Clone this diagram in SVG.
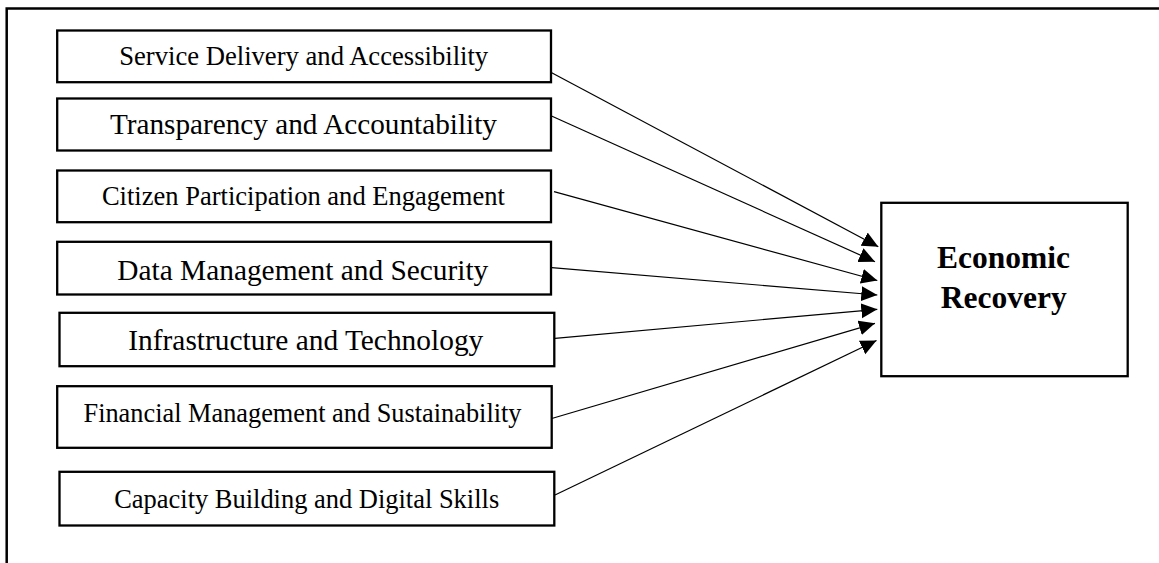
<svg xmlns="http://www.w3.org/2000/svg" width="1159" height="563" viewBox="0 0 1159 563">
<style>
  .box { fill: #fff; stroke: #000; stroke-width: 2.3; }
  .lbl { font-family: "Liberation Serif", "Times New Roman", serif; font-size: 26.5px; fill: #000; text-anchor: middle; }
  .lbl.big { font-size: 29px; }
  .er { font-family: "Liberation Serif", "Times New Roman", serif; font-size: 31.5px; font-weight: bold; fill: #000; text-anchor: middle; }
  .conn { stroke: #000; stroke-width: 1.2; fill: none; marker-end: url(#arrow); }
  .frame { stroke: #000; stroke-width: 2.5; fill: none; }
</style>
<defs>
  <marker id="arrow" markerUnits="userSpaceOnUse" markerWidth="17" markerHeight="16" refX="16" refY="7.5" orient="auto" viewBox="0 0 17 16">
    <path d="M0,0 L16,7.5 L0,15 z" fill="#000"/>
  </marker>
</defs>
<rect width="1159" height="563" fill="#fff"/>
<path class="frame" d="M6.7,563 V8.5 H1159"/>

<g id="connectors">
  <line class="conn" x1="551.7" y1="72.7" x2="878.3" y2="246.7"/>
  <line class="conn" x1="549.3" y1="115" x2="875" y2="261.7"/>
  <line class="conn" x1="554" y1="191.7" x2="877.3" y2="280.5"/>
  <line class="conn" x1="551.7" y1="267.7" x2="877.3" y2="295"/>
  <line class="conn" x1="555" y1="338.3" x2="877.3" y2="309.3"/>
  <line class="conn" x1="546.7" y1="420" x2="875" y2="323.3"/>
  <line class="conn" x1="555" y1="495" x2="876.5" y2="340.5"/>
</g>

<g id="node-service">
  <rect class="box" x="57.2" y="30.5" width="493.8" height="51.7"/>
  <text class="lbl" x="303.7" y="65" textLength="369" lengthAdjust="spacingAndGlyphs">Service Delivery and Accessibility</text>
</g>
<g id="node-transparency">
  <rect class="box" x="57.2" y="98.5" width="493.8" height="52"/>
  <text class="lbl big" x="303.4" y="134.3" textLength="387" lengthAdjust="spacingAndGlyphs">Transparency and Accountability</text>
</g>
<g id="node-citizen">
  <rect class="box" x="57.2" y="170.5" width="493.8" height="51.7"/>
  <text class="lbl" x="303.4" y="205" textLength="403" lengthAdjust="spacingAndGlyphs">Citizen Participation and Engagement</text>
</g>
<g id="node-data">
  <rect class="box" x="57.2" y="241.8" width="493.8" height="52.7"/>
  <text class="lbl big" x="302.8" y="280" textLength="371" lengthAdjust="spacingAndGlyphs">Data Management and Security</text>
</g>
<g id="node-infrastructure">
  <rect class="box" x="59.5" y="312.8" width="494.8" height="53.4"/>
  <text class="lbl big" x="305.8" y="350" textLength="355" lengthAdjust="spacingAndGlyphs">Infrastructure and Technology</text>
</g>
<g id="node-financial">
  <rect class="box" x="57.2" y="386.2" width="494.5" height="61.6"/>
  <text class="lbl" x="302.5" y="421.7" textLength="438" lengthAdjust="spacingAndGlyphs">Financial Management and Sustainability</text>
</g>
<g id="node-capacity">
  <rect class="box" x="59.5" y="471.8" width="494.8" height="53.7"/>
  <text class="lbl" x="306.7" y="508.3" textLength="385" lengthAdjust="spacingAndGlyphs">Capacity Building and Digital Skills</text>
</g>
<g id="node-economic-recovery">
  <rect class="box" x="881.3" y="202.8" width="246.4" height="173.4"/>
  <text class="er" x="1003.5" y="268.3" textLength="133" lengthAdjust="spacingAndGlyphs">Economic</text>
  <text class="er" x="1003.7" y="308.3" textLength="126" lengthAdjust="spacingAndGlyphs">Recovery</text>
</g>
</svg>
